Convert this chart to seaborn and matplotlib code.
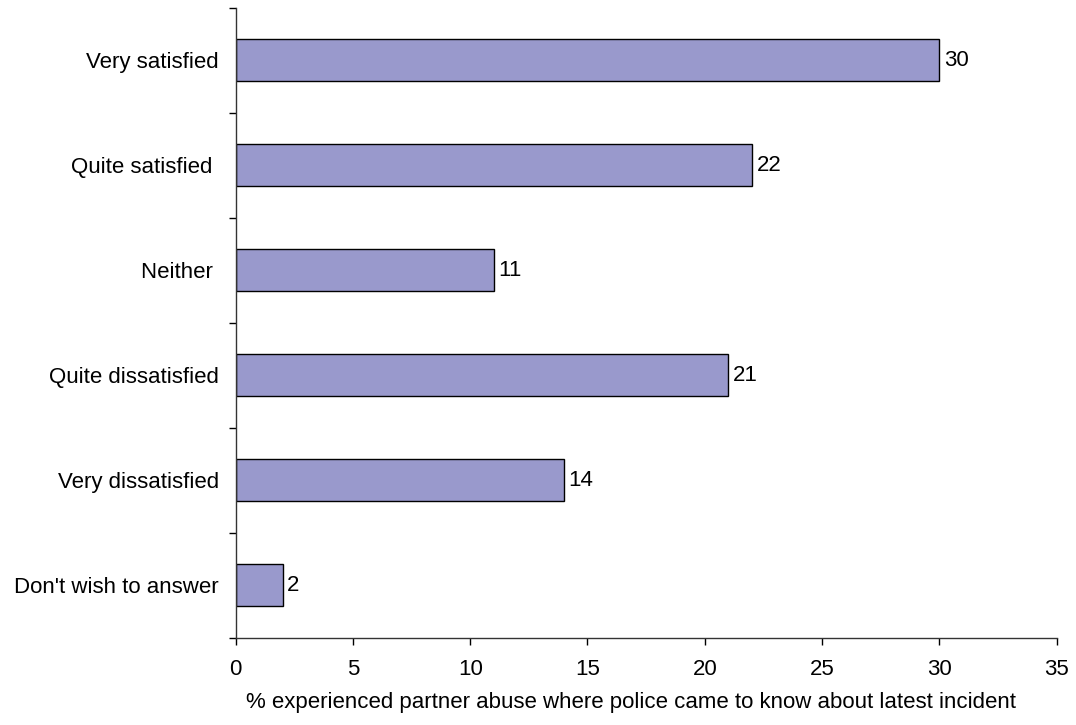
import numpy as np
import pandas as pd
import matplotlib
matplotlib.use('Agg')
import matplotlib.pyplot as plt
import seaborn as sns

categories = ['Very satisfied', 'Quite satisfied ', 'Neither ', 'Quite dissatisfied',
              'Very dissatisfied', "Don't wish to answer"]
values = [30, 22, 11, 21, 14, 2]
xticks = [0, 5, 10, 15, 20, 25, 30, 35]

sns.set_style('white')
plt.rcParams['font.family'] = ['Liberation Sans', 'DejaVu Sans']
plt.rcParams['text.color'] = 'black'
plt.rcParams['axes.labelcolor'] = 'black'
plt.rcParams['xtick.color'] = 'black'
plt.rcParams['ytick.color'] = 'black'

df = pd.DataFrame({'category': categories, 'value': values})

fig = plt.figure(figsize=(10.76, 7.25), dpi=100)
ax = fig.add_axes([0.219, 0.12, 0.763, 0.869])
sns.barplot(data=df, x='value', y='category', orient='h', color='#9999CC',
            edgecolor='black', linewidth=1.0, width=0.4, saturation=1, ax=ax)

for i, v in enumerate(values):
    ax.text(v + 0.2, i, str(v), va='center', ha='left', fontsize=16)

ax.set_xlim(0, 35)
ax.set_ylim(len(categories) - 0.5, -0.5)
ax.set_xticks(xticks)
ax.set_xticklabels([str(t) for t in xticks])
ax.set_yticks(np.arange(len(categories)))
ax.set_yticklabels(categories)
ax.set_yticks(np.arange(-0.5, len(categories)), minor=True)
ax.tick_params(axis='y', which='major', length=0, pad=12, labelsize=16)
ax.tick_params(axis='y', which='minor', length=5, width=1, direction='out', left=True)
ax.tick_params(axis='x', which='major', length=5, width=1, direction='out', bottom=True,
               pad=10, labelsize=16)
ax.set_xlabel('% experienced partner abuse where police came to know about latest incident',
              fontsize=16)
ax.xaxis.set_label_coords(0.481, -0.085)
ax.set_ylabel('')

for s in ['top', 'right']:
    ax.spines[s].set_visible(False)
for s in ['left', 'bottom']:
    ax.spines[s].set_color('#333333')
    ax.spines[s].set_linewidth(1)

fig.savefig('out.png', dpi=100)
